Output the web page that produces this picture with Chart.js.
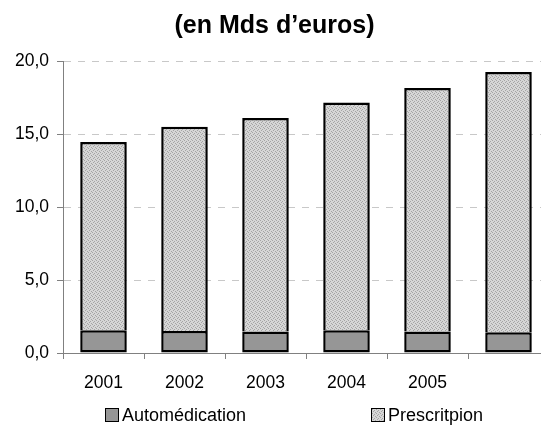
<!DOCTYPE html>
<html>
<head>
<meta charset="utf-8">
<script src="https://cdn.jsdelivr.net/npm/chart.js@4/dist/chart.umd.min.js"></script>
<style>
  html, body { margin: 0; padding: 0; background: #fff; overflow: hidden; }
  #wrap { position: relative; width: 560px; height: 428px; }
  .leg { position: absolute; top: 405px; font: 18px "Liberation Sans", Arial, sans-serif; color: #000; white-space: nowrap; }
  .leg span.box { display: inline-block; width: 12px; height: 12px; border: 1.5px solid #000; vertical-align: -1px; margin-right: 3px; }
</style>
</head>
<body>
<div id="wrap">
  <canvas id="chart" width="560" height="428"></canvas>
  <div class="leg" style="left:105px"><span class="box" id="boxAuto"></span>Automédication</div>
  <div class="leg" style="left:371px"><span class="box" id="boxPresc"></span>Prescritpion</div>
</div>
<script>
const years = ["2001", "2002", "2003", "2004", "2005", ""];
const automedication = [1.55, 1.5, 1.47, 1.55, 1.48, 1.42];
const prescription = [12.9, 14.0, 14.63, 15.6, 16.67, 17.83];

// fine dotted grey texture like the original
function makePattern() {
  const c = document.createElement("canvas");
  c.width = 4; c.height = 4;
  const p = c.getContext("2d");
  p.fillStyle = "#d6d6d6";
  p.fillRect(0, 0, 4, 4);
  p.fillStyle = "#a4a4a4";
  [[0, 0], [2, 1], [1, 2], [3, 3]].forEach(([x, y]) => p.fillRect(x, y, 1, 1));
  return c;
}
const patCanvas = makePattern();
const ctx = document.getElementById("chart").getContext("2d");
const pattern = ctx.createPattern(patCanvas, "repeat");

document.getElementById("boxAuto").style.background = "#969696";
document.getElementById("boxPresc").style.background = "url(" + patCanvas.toDataURL() + ")";

const font = { family: "'Liberation Sans', Arial, sans-serif", size: 17.5 };

new Chart(ctx, {
  type: "bar",
  data: {
    labels: years,
    datasets: [
      {
        label: "Automédication",
        data: automedication,
        backgroundColor: "#969696",
        borderColor: "#000",
        borderWidth: 2.5,
        borderSkipped: false,
        categoryPercentage: 1,
        barPercentage: 0.575,
      },
      {
        label: "Prescritpion",
        data: prescription,
        backgroundColor: pattern,
        borderColor: "#000",
        borderWidth: 2.5,
        borderSkipped: "start",
        categoryPercentage: 1,
        barPercentage: 0.575,
      },
    ],
  },
  options: {
    responsive: false,
    animation: false,
    layout: { padding: { top: 0, right: 11, bottom: 20, left: 0 } },
    plugins: {
      legend: { display: false },
      tooltip: { enabled: false },
      title: {
        display: true,
        text: "(en Mds d’euros)",
        color: "#000",
        font: { family: font.family, size: 25, weight: "bold" },
        padding: { top: 11, bottom: 20 },
      },
    },
    scales: {
      x: {
        stacked: true,
        grid: { display: true, drawOnChartArea: false, offset: true, color: "#808080", tickLength: 6 },
        border: { color: "#808080", width: 1 },
        ticks: { color: "#000", font: font, padding: 14, maxRotation: 0 },
      },
      y: {
        stacked: true,
        min: 0,
        max: 20,
        afterFit: (s) => { s.width = 63; },
        grid: { color: "#c8c8c8", tickColor: "#808080", tickLength: 6, tickBorderDash: [] },
        border: { color: "#808080", width: 1, dash: [7, 7] },
        ticks: {
          stepSize: 5,
          color: "#000",
          font: font,
          padding: 8,
          callback: (v) => v.toFixed(1).replace(".", ","),
        },
      },
    },
  },
});
</script>
</body>
</html>
